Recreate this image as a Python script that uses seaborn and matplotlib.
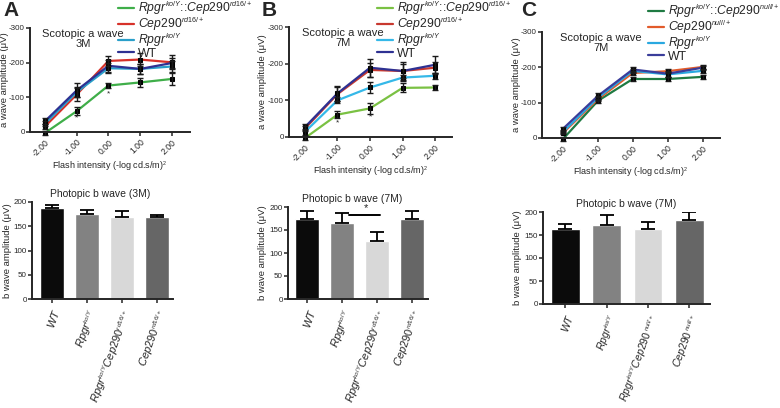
import numpy as np
import pandas as pd
import matplotlib
matplotlib.use("Agg")
import matplotlib.pyplot as plt
import matplotlib._mathtext as mathtext_internal
from matplotlib.lines import Line2D
import seaborn as sns

# ---- data ----
intensity = [-2, -1, 0, 1, 2]
xtick_labels = ["-2.00", "-1.00", "0.00", "1.00", "2.00"]

# scotopic a wave (uV, negative = downward), panel A 3M
a3m_dko = [3, -60, -134, -143, -153]
a3m_cep = [-16, -108, -205, -209, -201]
a3m_rpgr = [-24, -115, -184, -182, -189]
a3m_wt = [-31, -120, -191, -182, -199]
a3m_dko_err = [5, 12, 8, 12, 17]
a3m_cep_err = [8, 20, 15, 18, 20]
a3m_rpgr_err = [8, 15, 15, 15, 15]
a3m_wt_err = [8, 20, 18, 15, 15]

# panel B 7M (rd16)
a7m_dko = [3, -61, -78, -134, -135]
a7m_cep = [-23, -117, -183, -180, -189]
a7m_rpgr = [-14, -100, -135, -162, -167]
a7m_wt = [-27, -119, -189, -180, -197]
a7m_dko_err = [5, 10, 15, 12, 8]
a7m_cep_err = [8, 20, 20, 20, 15]
a7m_rpgr_err = [8, 8, 14, 8, 8]
a7m_wt_err = [8, 20, 25, 25, 25]

# panel C 7M (null)
c7m_dko = [3, -105, -167, -167, -173]
c7m_cep = [-14, -110, -184, -189, -201]
c7m_rpgr = [-17, -114, -190, -180, -190]
c7m_wt = [-26, -119, -194, -182, -199]
c7m_dko_err = [5, 6, 6, 6, 6]
c7m_cep_err = [4, 6, 6, 6, 6]
c7m_rpgr_err = [4, 6, 6, 6, 6]
c7m_wt_err = [4, 8, 6, 8, 6]

# photopic b wave bars
bars_3m = [188, 175, 169, 169]
bars_3m_err = [6, 8, 12, 5]
bars_7m = [175, 165, 127, 175]
bars_7m_err = [16, 21, 19, 16]
bars_c = [163, 171, 162, 182]
bars_c_err = [12, 22, 16, 17]

rd16_labels = [r"$WT$", r"$Rpgr^{ko/Y}$", r"$Rpgr^{ko/Y}Cep290^{rd16/+}$", r"$Cep290^{rd16/+}$"]
null_labels = [r"$WT$", r"$Rpgr^{ko/Y}$", r"$Rpgr^{ko/Y}Cep290\,^{null/+}$", r"$Cep290\,^{null/+}$"]
bar_colors = ["#0b0b0b", "#828282", "#d8d8d8", "#666666"]

leg_rd16 = [r"$Rpgr^{ko/Y}$::$Cep290^{rd16/+}$", r"$Cep290^{rd16/+}$", r"$Rpgr^{ko/Y}$", "WT"]
leg_null = [r"$Rpgr^{ko/Y}$::$Cep290^{null/+}$", r"$Cep290^{null/+}$", r"$Rpgr^{ko/Y}$", "WT"]

# ---- style ----
sns.set_style("ticks")
plt.rcParams["font.family"] = ["Liberation Sans", "DejaVu Sans"]
plt.rcParams["mathtext.fontset"] = "custom"
plt.rcParams["mathtext.it"] = "Liberation Sans:italic"
plt.rcParams["mathtext.rm"] = "Liberation Sans"
plt.rcParams["mathtext.default"] = "it"
plt.rcParams["axes.unicode_minus"] = False
# smaller superscripts, like the original figure
mathtext_internal.SHRINK_FACTOR = 0.58

W, H = 780, 408
fig = plt.figure(figsize=(W / 100, H / 100), dpi=100)


def px(l, t, r, b):
    return [l / W, 1 - b / H, (r - l) / W, (b - t) / H]


def style_axes(ax):
    sns.despine(ax=ax)
    for s in ["left", "bottom"]:
        ax.spines[s].set_linewidth(1.4)
    ax.tick_params(width=1.1, length=3, labelsize=6.2, pad=1)
    ax.tick_params(axis="y", labelsize=5.8, pad=0.8)


def place_ylabel(ax, rect, right_px):
    l, t, r, b = rect
    ax.yaxis.set_label_coords((right_px - l) / (r - l), 0.5)


def line_panel(rect, series, errs, colors, labels, xlim, title, leg_xy, stars, ylab_px):
    ax = fig.add_axes(px(*rect))
    rows = []
    for lab, vals in zip(labels, series):
        for x, v in zip(intensity, vals):
            rows.append({"intensity": x, "amplitude": v, "genotype": lab})
    df = pd.DataFrame(rows)
    sns.lineplot(data=df, x="intensity", y="amplitude", hue="genotype",
                 hue_order=labels, palette=colors, ax=ax, linewidth=1.6,
                 marker="s", markersize=3, markerfacecolor="k",
                 markeredgecolor="k", clip_on=False, legend=False)
    for vals, err in zip(series, errs):
        ax.errorbar(intensity, vals, yerr=err, fmt="none", ecolor="#1a1a1a",
                    elinewidth=1, capsize=2.5, capthick=1, clip_on=False)
    ax.set_xlim(*xlim)
    ax.set_ylim(0, -300)
    ax.set_yticks([0, -100, -200, -300])
    ax.set_yticklabels(["0", "-100", "-200", "-300"])
    ax.set_xticks(intensity)
    ax.set_xticklabels(xtick_labels, rotation=45, ha="right",
                       rotation_mode="anchor")
    ax.set_xlabel("Flash intensity (-log cd.s/m)$\\mathrm{^{\\,2}}$", fontsize=6.5, labelpad=1)
    ax.set_ylabel("a wave amplitude (\u03bcV)", fontsize=6.8)
    place_ylabel(ax, rect, ylab_px)
    style_axes(ax)
    ax.text(0.33, 0.99, title, transform=ax.transAxes, ha="center",
            va="top", fontsize=8, linespacing=1.05)
    for sx, sy in stars:
        ax.text(sx, sy, "*", ha="center", va="center", fontsize=6)
    handles = [Line2D([], [], color=c, lw=1.6) for c in colors]
    ax.legend(handles, labels, loc="upper left",
              bbox_to_anchor=(leg_xy[0] / W, 1 - leg_xy[1] / H),
              bbox_transform=fig.transFigure, frameon=False, fontsize=8.8,
              handlelength=1.3, handletextpad=0.3, labelspacing=-0.1,
              borderpad=0, borderaxespad=0)
    return ax


def bar_panel(rect, vals, err, labels, xlim, title, title_xy, ylab_px, lab_size=8.0):
    ax = fig.add_axes(px(*rect))
    sns.barplot(x=labels, y=vals, hue=labels, palette=bar_colors, legend=False,
                ax=ax, width=0.69, order=labels)
    ax.errorbar(range(4), vals, yerr=[np.zeros(4), err], fmt="none",
                ecolor="k", elinewidth=1.3, capsize=5, capthick=1.3)
    ax.set_xlim(*xlim)
    ax.set_ylim(0, 200)
    ax.set_yticks([0, 50, 100, 150, 200])
    ax.set_xticks(range(4))
    ax.set_xticklabels(labels, rotation=70, ha="right", rotation_mode="anchor")
    ax.set_xlabel("")
    ax.set_ylabel("b wave amplitude (\u03bcV)", fontsize=6.8)
    place_ylabel(ax, rect, ylab_px)
    style_axes(ax)
    ax.tick_params(axis="x", labelsize=lab_size, pad=3)
    fig.text(title_xy[0] / W, 1 - title_xy[1] / H, title, ha="center",
             va="top", fontsize=7.5)
    return ax


# line panels
line_panel((30, 28, 190, 132), [a3m_dko, a3m_cep, a3m_rpgr, a3m_wt],
           [a3m_dko_err, a3m_cep_err, a3m_rpgr_err, a3m_wt_err],
           ["#3fae49", "#d7322a", "#2a9fc9", "#2e3192"], leg_rd16,
           (-2.47, 2.57), "Scotopic a wave\n3M", (118, 0),
           [(-1, -40), (0, -110)], 9.5)
line_panel((289, 27, 452, 137), [a7m_dko, a7m_cep, a7m_rpgr, a7m_wt],
           [a7m_dko_err, a7m_cep_err, a7m_rpgr_err, a7m_wt_err],
           ["#7ac143", "#c8382f", "#35b8e8", "#2e3192"], leg_rd16,
           (-2.49, 2.52), "Scotopic a wave\n7M", (377, 0),
           [(-1, -39), (0, -55)], 267)
line_panel((542, 32, 720, 138), [c7m_dko, c7m_cep, c7m_rpgr, c7m_wt],
           [c7m_dko_err, c7m_cep_err, c7m_rpgr_err, c7m_wt_err],
           ["#1f7a42", "#e25b2b", "#29a8e0", "#3a3d9a"], leg_null,
           (-2.6, 2.5), "Scotopic a wave\n7M", (648, 3), [], 521)

# bar panels
bar_panel((32, 202, 173, 299), bars_3m, bars_3m_err, rd16_labels,
          (-0.57, 3.46), "Photopic b wave (3M)", (100, 189), 12)
axb = bar_panel((288, 207, 428, 299), bars_7m, bars_7m_err, rd16_labels,
                (-0.56, 3.47), "Photopic b wave (7M)", (352, 194), 267)
axb.plot([1.2, 2.1], [183, 183], color="k", lw=1.4, clip_on=False)
axb.text(1.68, 186, "*", ha="center", va="bottom", fontsize=8)
bar_panel((543, 212, 710, 304), bars_c, bars_c_err, null_labels,
          (-0.54, 3.5), "Photopic b wave (7M)", (626, 199), 522, lab_size=7.6)

# panel letters
for x, letter in [(3, "A"), (262, "B"), (521, "C")]:
    fig.text(x / W, 1 - 1 / H, letter, fontsize=15, fontweight="bold",
             ha="left", va="top")

fig.savefig("out.png", dpi=100)
